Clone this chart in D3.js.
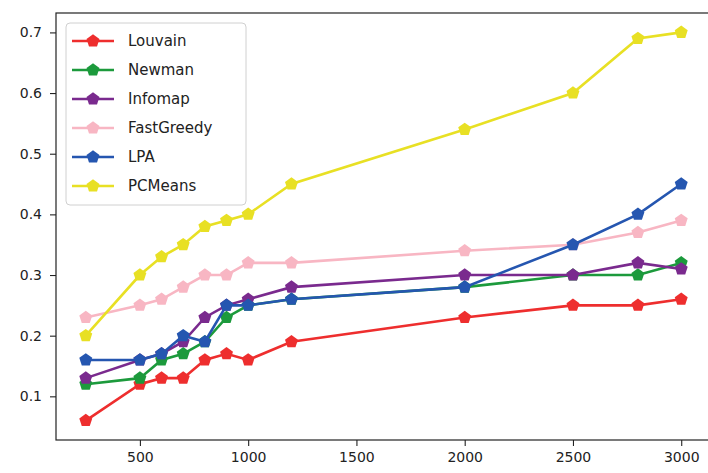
<!DOCTYPE html>
<html>
<head>
<meta charset="utf-8">
<script src="https://cdn.jsdelivr.net/npm/d3@7"></script>
<style>
  body { margin: 0; background: #fff; }
  text { font-family: 'DejaVu Sans', sans-serif; }
</style>
</head>
<body>
<div id="chart"></div>
<script>
const xValues = [250, 500, 600, 700, 800, 900, 1000, 1200, 2000, 2500, 2800, 3000]

const louvain = [0.06, 0.12, 0.13, 0.13, 0.16, 0.17, 0.16, 0.19, 0.23, 0.25, 0.25, 0.26]
const newman = [0.12, 0.13, 0.16, 0.17, 0.19, 0.23, 0.25, 0.26, 0.28, 0.30, 0.30, 0.32]
const infomap = [0.13, 0.16, 0.17, 0.19, 0.23, 0.25, 0.26, 0.28, 0.30, 0.30, 0.32, 0.31]
const fastGreedy = [0.23, 0.25, 0.26, 0.28, 0.30, 0.30, 0.32, 0.32, 0.34, 0.35, 0.37, 0.39]
const lpa = [0.16, 0.16, 0.17, 0.20, 0.19, 0.25, 0.25, 0.26, 0.28, 0.35, 0.40, 0.45]
const pcMeans = [0.20, 0.30, 0.33, 0.35, 0.38, 0.39, 0.40, 0.45, 0.54, 0.60, 0.69, 0.70]

const seriesNames = ['Louvain', 'Newman', 'Infomap', 'FastGreedy', 'LPA', 'PCMeans']
const seriesValues = [louvain, newman, infomap, fastGreedy, lpa, pcMeans]
const seriesColors = ['#ee2e2e', '#1c9a3c', '#7a2a8e', '#f8b6c3', '#2556b0', '#e8e024']

const xTicks = [500, 1000, 1500, 2000, 2500, 3000]
const yTicks = [0.1, 0.2, 0.3, 0.4, 0.5, 0.6, 0.7]

const W = 708
const H = 473
const plot = { left: 56, right: 711, top: 13, bottom: 440 }

const svg = d3.select('#chart')
  .append('svg')
  .attr('width', W)
  .attr('height', H)

// matplotlib style auto limits (5% margins)
const xScale = d3.scaleLinear()
  .domain([112.5, 3137.5])
  .range([plot.left, plot.right])

const yScale = d3.scaleLinear()
  .domain([0.028, 0.732])
  .range([plot.bottom, plot.top])

// pentagon marker, point up
function pentagon(r) {
  const pts = d3.range(5).map(i => {
    const a = -Math.PI / 2 + i * 2 * Math.PI / 5
    return [r * Math.cos(a), r * Math.sin(a)]
  })
  return 'M' + pts.map(p => p[0].toFixed(2) + ',' + p[1].toFixed(2)).join('L') + 'Z'
}

const line = d3.line()
  .x(d => xScale(d[0]))
  .y(d => yScale(d[1]))

const plotArea = svg.append('g')

seriesValues.forEach((vals, i) => {
  const pts = xValues.map((x, j) => [x, vals[j]])
  const g = plotArea.append('g')
  g.append('path')
    .datum(pts)
    .attr('d', line)
    .attr('fill', 'none')
    .attr('stroke', seriesColors[i])
    .attr('stroke-width', 2.6)
  g.selectAll('.marker')
    .data(pts)
    .enter()
    .append('path')
    .attr('class', 'marker')
    .attr('d', pentagon(6.8))
    .attr('transform', d => `translate(${xScale(d[0])},${yScale(d[1])})`)
    .attr('fill', seriesColors[i])
})

// axes
const xAxis = svg.append('g')
  .attr('transform', `translate(0,${plot.bottom})`)
  .call(d3.axisBottom(xScale).tickValues(xTicks).tickSize(6).tickPadding(6).tickFormat(d3.format('d')))
const yAxis = svg.append('g')
  .attr('transform', `translate(${plot.left},0)`)
  .call(d3.axisLeft(yScale).tickValues(yTicks).tickSize(6).tickPadding(8).tickFormat(d3.format('.1f')))

;[xAxis, yAxis].forEach(ax => {
  ax.select('.domain').remove()
  ax.selectAll('line').attr('stroke', '#222').attr('stroke-width', 1.1)
  ax.selectAll('text')
    .attr('fill', '#222')
    .style('font-size', '14px')
    .style('font-family', "'DejaVu Sans', sans-serif")
})

// spines
svg.append('rect')
  .attr('x', plot.left)
  .attr('y', plot.top)
  .attr('width', plot.right - plot.left)
  .attr('height', plot.bottom - plot.top)
  .attr('fill', 'none')
  .attr('stroke', '#222')
  .attr('stroke-width', 1.2)

// legend
const legend = svg.append('g').attr('transform', 'translate(66,23)')
legend.append('rect')
  .attr('width', 180)
  .attr('height', 182)
  .attr('rx', 4)
  .attr('fill', 'rgba(255,255,255,0.8)')
  .attr('stroke', '#d0d0d0')
  .attr('stroke-width', 1)

seriesNames.forEach((name, i) => {
  const y = 18 + i * 29
  const row = legend.append('g').attr('transform', `translate(0,${y})`)
  row.append('line')
    .attr('x1', 6).attr('x2', 48)
    .attr('y1', 0).attr('y2', 0)
    .attr('stroke', seriesColors[i])
    .attr('stroke-width', 2.6)
  row.append('path')
    .attr('d', pentagon(6.8))
    .attr('transform', 'translate(27,0)')
    .attr('fill', seriesColors[i])
  row.append('text')
    .attr('x', 62)
    .attr('y', 0)
    .attr('dy', '0.35em')
    .attr('fill', '#222')
    .style('font-size', '15px')
    .text(name)
})
</script>
</body>
</html>
